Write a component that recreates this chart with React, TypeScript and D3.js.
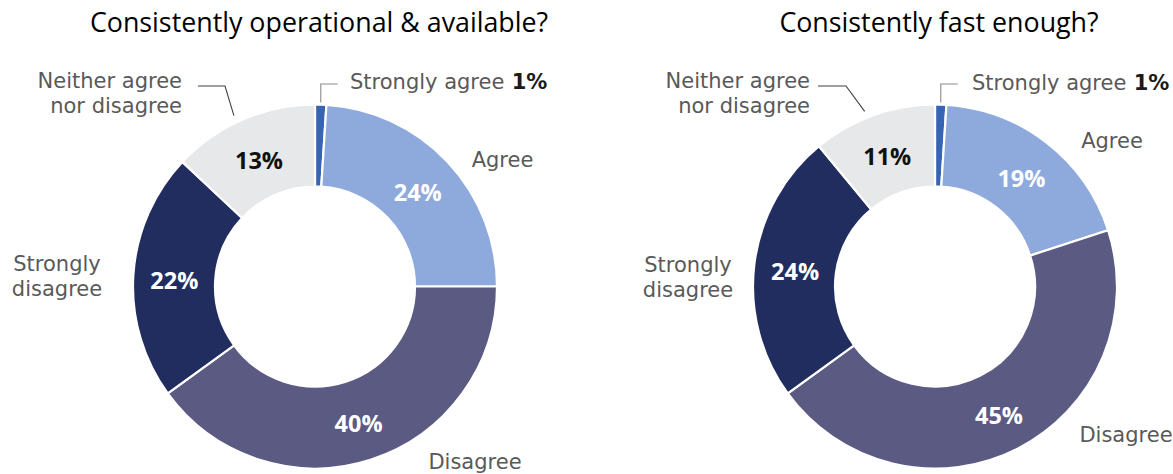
import React from "react";
import * as d3 from "d3";

const categories = ["Strongly agree", "Agree", "Disagree", "Strongly disagree", "Neither agree nor disagree"];
const operationalValues = [1, 24, 40, 22, 13];
const fastValues = [1, 19, 45, 24, 11];
const chartTitles = ["Consistently operational & available?", "Consistently fast enough?"];

const COLORS = ["#3864b4", "#8ea9db", "#5b5a83", "#212d5f", "#e7e8ea"];
const PCT_COLORS = ["#1a1a1a", "#ffffff", "#ffffff", "#ffffff", "#111111"];
const FONT = "'Open Sans', 'Noto Sans', sans-serif";
const LABEL_FONT = "'DejaVu Sans', 'Open Sans', sans-serif";
const LABEL_GRAY = "#595959";

const W = 1173;
const H = 474;
const R_OUT = 182;
const R_IN = 100;
const CY = 286.5;

type LabelLayout = {
  lines: string[];
  dx: number;
  dy: number; // baseline of first line, relative to center
  anchor: "start" | "middle" | "end";
  leader?: { elbow: [number, number][]; angleIdx: number };
};

// Layouts (relative to donut centre) for the outer category labels
const layouts: LabelLayout[][] = [
  [
    { lines: ["Strongly agree"], dx: 35, dy: -197.5, anchor: "start", leader: { elbow: [[23, -204.5]], angleIdx: 0 } },
    { lines: ["Agree"], dx: 187.5, dy: -119.5, anchor: "middle" },
    { lines: ["Disagree"], dx: 160, dy: 182, anchor: "middle" },
    { lines: ["Strongly", "disagree"], dx: -258, dy: -15.5, anchor: "middle" },
    { lines: ["Neither agree", "nor disagree"], dx: -133, dy: -198.5, anchor: "end", leader: { elbow: [[-117, -202.5], [-90, -202.5]], angleIdx: 4 } },
  ],
  [
    { lines: ["Strongly agree"], dx: 37, dy: -196.5, anchor: "start", leader: { elbow: [[23, -204.5]], angleIdx: 0 } },
    { lines: ["Agree"], dx: 177, dy: -138.5, anchor: "middle" },
    { lines: ["Disagree"], dx: 191, dy: 155.5, anchor: "middle" },
    { lines: ["Strongly", "disagree"], dx: -247, dy: -14.5, anchor: "middle" },
    { lines: ["Neither agree", "nor disagree"], dx: -125, dy: -198.5, anchor: "end", leader: { elbow: [[-117, -202.5], [-89, -202.5]], angleIdx: 4 } },
  ],
];

function Donut({ values, title, cx, layout }: { values: number[]; title: string; cx: number; layout: LabelLayout[] }) {
  const pie = d3.pie<number>().sort(null).value((d) => d).startAngle(0).endAngle(2 * Math.PI);
  const arcs = pie(values);
  const arc = d3.arc<d3.PieArcDatum<number>>().innerRadius(R_IN).outerRadius(R_OUT);
  const labelArc = d3.arc<d3.PieArcDatum<number>>().innerRadius(141).outerRadius(141);
  const pointAt = (a: d3.PieArcDatum<number>, r: number): [number, number] => {
    const m = (a.startAngle + a.endAngle) / 2;
    return [r * Math.sin(m), -r * Math.cos(m)];
  };
  return (
    <g>
      <text x={cx + 4} y={32} textAnchor="middle" fontFamily={FONT} fontSize={26.8} fill="#000">
        {title}
      </text>
      <g transform={`translate(${cx},${CY})`}>
        {arcs.map((a, i) => (
          <path key={i} d={arc(a) || ""} fill={COLORS[i]} stroke="#fff" strokeWidth={2.2} />
        ))}
        {arcs.map((a, i) => {
          if (i === 0) return null;
          const [x, y] = labelArc.centroid(a);
          return (
            <text key={"p" + i} x={x} y={y + 3} dy="0.36em" textAnchor="middle" fontFamily={FONT} fontWeight={700} fontSize={23.5} fill={PCT_COLORS[i]}>
              {d3.format(".0%")(a.data / 100)}
            </text>
          );
        })}
        {layout.map((l, i) => {
          let leader = null;
          if (l.leader) {
            const end = pointAt(arcs[l.leader.angleIdx], R_OUT + 2);
            let d: string;
            if (i === 0) {
              d = `M${end[0] + 17},${l.leader.elbow[0][1] + 2}H${end[0]}V${end[1]}`;
            } else {
              const e = l.leader.elbow;
              d = `M${e[0][0]},${e[0][1] + 2}H${e[1][0]}L${end[0] - 8},${end[1] - 2}`;
            }
            leader = <path d={d} fill="none" stroke={i === 0 ? "#8c8c8c" : "#404040"} strokeWidth={1.1} />;
          }
          return (
            <g key={"l" + i}>
              {leader}
              <text textAnchor={l.anchor} fontFamily={LABEL_FONT} fontSize={21} fill={LABEL_GRAY}>
                {l.lines.map((ln, j) => (
                  <tspan key={j} x={l.dx} y={l.dy + j * 25}>
                    {ln}
                    {i === 0 ? (
                      <tspan fontWeight={700} fill="#1a1a1a">
                        {" " + d3.format(".0%")(values[0] / 100)}
                      </tspan>
                    ) : null}
                  </tspan>
                ))}
              </text>
            </g>
          );
        })}
      </g>
    </g>
  );
}

export default function App() {
  const centers = [315, 935];
  const series = [operationalValues, fastValues];
  return (
    <svg width={W} height={H} style={{ position: "absolute", left: 0, top: 0, background: "#fff" }} aria-label={categories.join(", ")}>
      <rect width={W} height={H} fill="#fff" />
      {series.map((vals, k) => (
        <Donut key={k} values={vals} title={chartTitles[k]} cx={centers[k]} layout={layouts[k]} />
      ))}
    </svg>
  );
}
